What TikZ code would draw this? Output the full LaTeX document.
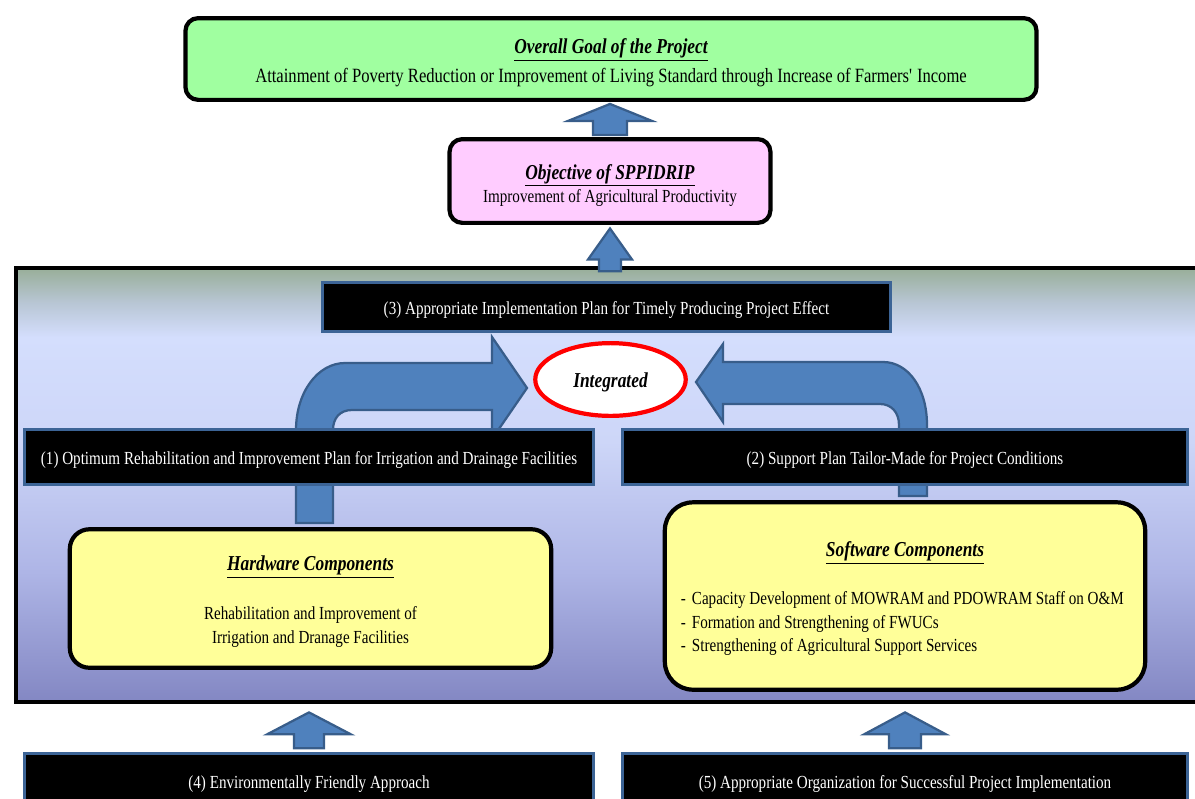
\documentclass[tikz,border=0pt]{standalone}
\usepackage{fontspec}
\setmainfont{Liberation Serif}[FakeStretch=0.82]
\usetikzlibrary{shapes.geometric,calc}

\definecolor{goalgreen}{HTML}{A0FFA0}
\definecolor{objpink}{HTML}{FFCCFF}
\definecolor{compyellow}{HTML}{FFFF99}
\definecolor{arrowfill}{HTML}{4F81BD}
\definecolor{arrowline}{HTML}{385D8A}
\definecolor{planline}{HTML}{3C6496}
\definecolor{paneltop}{HTML}{98AE98}
\definecolor{panelgrey}{HTML}{B8C6D4}
\definecolor{panellight}{HTML}{D4DEFD}
\definecolor{panelmid}{HTML}{CDD6F8}
\definecolor{panellow}{HTML}{AEB5E6}
\definecolor{panelbot}{HTML}{8387C3}

\pgfdeclareverticalshading{panelshade}{100bp}{color(0bp)=(panelbot); color(25bp)=(panelbot); color(40bp)=(panellow); color(55bp)=(panelmid); color(67bp)=(panellight); color(71bp)=(panelgrey); color(75bp)=(paneltop); color(100bp)=(paneltop)}

\newcommand{\goalfont}{\fontsize{14.4}{19}\selectfont}
\newcommand{\bodyfont}{\fontsize{13.1}{16.7}\selectfont}
\newcommand{\titlefont}{\fontsize{15.1}{19}\selectfont\bfseries\itshape}
\newcommand{\planfont}{\fontsize{13.1}{16}\selectfont}

% one pixel of the drawing grid
\newcommand{\pxl}{0.7087pt}
% block arrow pointing up: base, tip, head half width, shaft half width, head length (px)
\newcommand{\blockup}[5]{%
  \path[blockarrow] let \p1=(#1), \p2=(#2) in
    (\x1-#4*\pxl,\y1) -- (\x1-#4*\pxl,\y2-#5*\pxl) -- (\x1-#3*\pxl,\y2-#5*\pxl) -- (\x1,\y2)
    -- (\x1+#3*\pxl,\y2-#5*\pxl) -- (\x1+#4*\pxl,\y2-#5*\pxl) -- (\x1+#4*\pxl,\y1) -- cycle;}

\tikzset{
  roundbox/.style={draw=black, line width=3pt, rounded corners=9pt, inner sep=0pt},
  boxtext/.style={align=center, inner sep=0pt},
  planbox/.style={draw=planline, fill=black, line width=2.2pt, inner sep=0pt, text=white,
    minimum height=55*\pxl, text height=13pt, text depth=3pt, font=\planfont},
  blockarrow/.style={draw=arrowline, fill=arrowfill, line width=1.6pt, line join=miter},
}

\begin{document}
\begin{tikzpicture}[x=0.025cm, y=-0.025cm]
\useasboundingbox (0,0) rectangle (1195,798);

% shaded panel holding the plans
\node[shade, shading=panelshade, draw=black, line width=3pt, inner sep=0pt,
  minimum width=1201*\pxl, minimum height=436*\pxl] (panel) at (614.5,485) {};

% bent arrows into the middle
\path[blockarrow] (296,523) -- (296,430) .. controls (296,392) and (318,363) .. (345,363)
  -- (492,363) -- (492,337) -- (527,388) -- (492,439) -- (492,410) -- (352,410)
  .. controls (340,410) and (333,418) .. (333,430) -- (333,523) -- cycle;
\path[blockarrow] (927,496) -- (927,425) .. controls (927,388) and (908,362) .. (883,362)
  -- (723,362) -- (723,344) -- (696,382) -- (723,422) -- (723,404) -- (880,404)
  .. controls (891,404) and (899,412) .. (899,425) -- (899,496) -- cycle;

\node[roundbox, fill=goalgreen, minimum width=854*\pxl, minimum height=82*\pxl] (goal) at (611,59) {};
\node[boxtext, font=\goalfont] (goaltxt) at (611,63)
  {{\titlefont\underline{Overall Goal of the Project}}\\[1.6pt]
   Attainment of Poverty Reduction or Improvement of Living Standard through Increase of Farmers\textquotesingle{} Income};
\node[roundbox, fill=objpink, minimum width=322*\pxl, minimum height=84*\pxl] (objective) at (610,181) {};
\node[boxtext, font=\bodyfont] (objtxt) at (610,185.5)
  {{\titlefont\underline{Objective of SPPIDRIP}}\\[0pt]
   Improvement of Agricultural Productivity};

\blockup{[yshift=1.4pt]objective.north}{[yshift=-1.4pt]goal.south}{42}{17}{17}
\blockup{[yshift=-4pt]panel.north -| objective.south}{[yshift=-2.5pt]objective.south}{22}{11}{31}

\node[planbox, minimum width=570*\pxl, minimum height=49*\pxl] (plan3) at (606.5,307)
  {(3) Appropriate Implementation Plan for Timely Producing Project Effect};
\node[ellipse, draw=red, line width=3pt, fill=white, inner sep=0pt, font=\titlefont,
  text height=14.5pt, text depth=3.3pt,
  minimum width=151*\pxl, minimum height=73*\pxl] (integ) at (610.5,379.5) {Integrated};

\node[planbox, minimum width=571*\pxl] (plan1) at (309,457)
  {(1) Optimum Rehabilitation and Improvement Plan for Irrigation and Drainage Facilities};
\node[planbox, minimum width=567*\pxl] (plan2) at (905,457)
  {(2) Support Plan Tailor-Made for Project Conditions};

\node[roundbox, fill=compyellow, rounded corners=14pt, minimum width=483*\pxl, minimum height=139*\pxl]
  (hardware) at (310.5,598.5) {};
\node[boxtext, font=\bodyfont] (hwtxt) at (310.5,601.5)
  {{\titlefont\underline{Hardware Components}}\\[18pt]
   Rehabilitation and Improvement of\\ Irrigation and Dranage Facilities};
\node[roundbox, fill=compyellow, rounded corners=20pt, minimum width=482*\pxl, minimum height=188*\pxl]
  (software) at (905,596) {};
\node[font=\titlefont] (swtitle) at (905,553) {\underline{Software Components}};
\node[anchor=west, align=left, font=\bodyfont] (swlist) at (676,623.5)
  {\makebox[7.8pt][l]{-}Capacity Development of MOWRAM and PDOWRAM Staff on O\&M\\
   \makebox[7.8pt][l]{-}Formation and Strengthening of FWUCs\\
   \makebox[7.8pt][l]{-}Strengthening of Agricultural Support Services};

% approaches feeding the panel
\node[planbox, minimum width=571*\pxl] (plan4) at (309,781) {(4) Environmentally Friendly Approach};
\node[planbox, minimum width=567*\pxl] (plan5) at (905,781)
  {(5) Appropriate Organization for Successful Project Implementation};
\coordinate (tip4) at (plan4.north |- panel.south);
\coordinate (tip5) at (plan5.north |- panel.south);
\blockup{[yshift=2.8pt]plan4.north}{[yshift=-5.7pt]tip4}{42}{15}{22}
\blockup{[yshift=2.8pt]plan5.north}{[yshift=-5.7pt]tip5}{41}{16}{22}
\end{tikzpicture}
\end{document}
